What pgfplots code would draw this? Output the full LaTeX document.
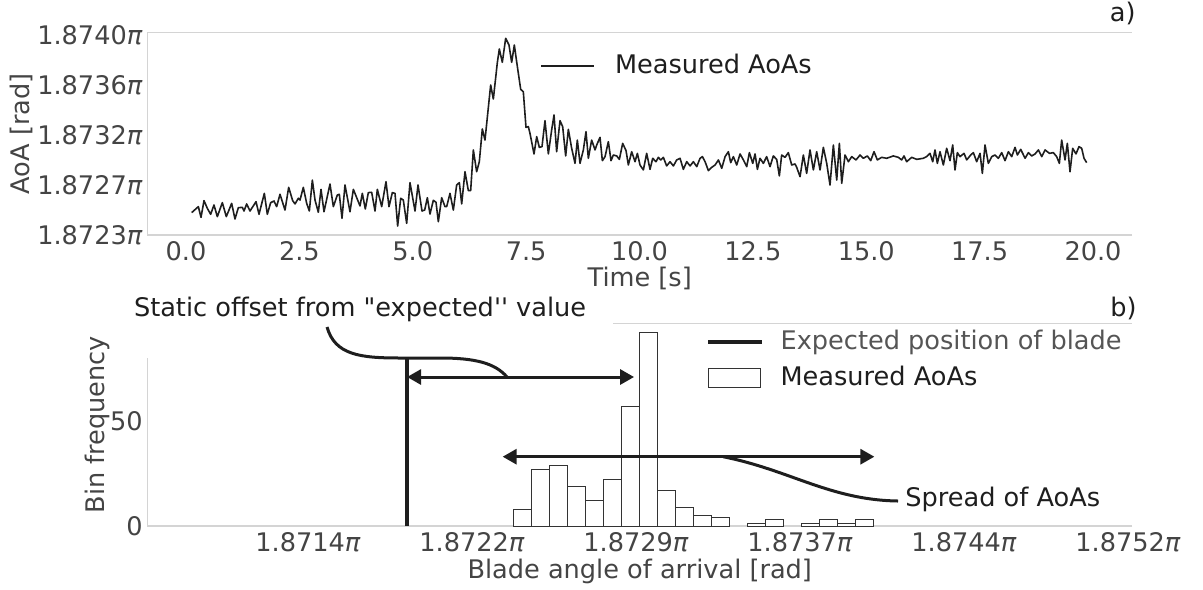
\documentclass[border=0pt]{standalone}
\usepackage{fontspec}
\setmainfont{DejaVu Sans}
\usepackage{pgfplots}
\pgfplotsset{compat=1.18}
\usetikzlibrary{arrows.meta}
\definecolor{spine}{HTML}{D4D4D4}
\definecolor{tickc}{HTML}{444444}
\definecolor{dark}{HTML}{1E1E1E}
\definecolor{legg}{HTML}{555555}
\definecolor{histedge}{HTML}{333333}
\newcommand{\fs}{\fontsize{12.8}{15}\selectfont}
\pgfplotsset{
  common/.style={
    scale only axis, clip=false,
    axis line style={draw=none}, tick style={draw=none}, major tick length=0pt,
    tick label style={font=\fs, text=tickc},
    xticklabel style={inner sep=0pt, anchor=north, yshift=-3pt},
    yticklabel style={inner sep=0pt, anchor=east, xshift=-2.25pt},
  },
  lineleg/.style={legend image code/.code={\draw[##1] (0pt,0pt) -- (26.5pt,0pt);}},
  thickleg/.style={legend image code/.code={\draw[##1] (0pt,0pt) -- (27pt,0pt);}},
  patchleg/.style={legend image code/.code={\draw[draw=histedge, line width=0.5pt, fill=white] (0pt,-4.75pt) rectangle (26pt,4.75pt);}},
}
\begin{document}
\begin{tikzpicture}[x=1pt,y=1pt]
\path[use as bounding box] (0,0) rectangle (601.5,294.5);
% ---------------- top axis ----------------
\begin{axis}[common,
  at={(73.75pt,177pt)}, anchor=south west,
  width=492.25pt, height=101.15pt,
  xmin=-0.849, xmax=20.86, ymin=23, ymax=40.196,
  xtick={0,2.5,5,7.5,10,12.5,15,17.5,20},
  xticklabels={0.0,2.5,5.0,7.5,10.0,12.5,15.0,17.5,20.0},
  ytick={23,27.25,31.5,35.75,40},
  yticklabels={1.8723\textit{π},1.8727\textit{π},1.8732\textit{π},1.8736\textit{π},1.8740\textit{π}},
  xlabel={Time [s]}, ylabel={AoA [rad]},
  every axis x label/.style={at={(axis description cs:0.5,-0.2556)}, anchor=base, font=\fs, text=tickc},
  every axis y label/.style={at={(axis description cs:-0.1285,0.5)}, rotate=90, anchor=center, font=\fs, text=tickc},
  legend style={draw=none, fill=none, at={(0.3987,0.8354)}, anchor=west, inner sep=0pt,
    column sep=10pt, font=\fs, text=dark,
    nodes={inner sep=0pt, text height=0.73em, text depth=0pt}, cells={anchor=west}},
]
\draw[spine, line width=0.6pt] (rel axis cs:1,0) -- (rel axis cs:0,0) -- (rel axis cs:0,1) -- (rel axis cs:1,1);
\addplot[dark, line width=0.8pt, line join=round, lineleg] coordinates {
(0.125,24.90) (0.272,25.41) (0.331,24.50) (0.397,25.92) (0.470,25.27) (0.544,24.76) (0.617,25.55) (0.691,24.56) (0.801,25.75) (0.889,24.56) (1.007,25.69) (1.080,24.36) (1.154,25.32) (1.242,25.35) (1.279,25.04) (1.338,25.64) (1.411,25.04) (1.544,25.83) (1.610,24.76) (1.727,26.54) (1.793,24.76) (1.867,25.75) (1.940,25.89) (1.999,25.41) (2.073,26.46) (2.183,25.12) (2.264,27.05) (2.352,25.92) (2.404,25.64) (2.477,26.12) (2.514,25.97) (2.587,27.05) (2.661,25.69) (2.720,25.04) (2.786,27.67) (2.845,25.97) (2.918,24.93) (2.977,26.88) (3.043,24.98) (3.175,27.33) (3.249,25.41) (3.337,26.40) (3.381,26.46) (3.440,24.42) (3.506,27.25) (3.616,24.98) (3.690,26.88) (3.837,25.47) (3.888,26.54) (3.954,25.21) (4.020,26.60) (4.094,26.63) (4.168,25.04) (4.219,26.88) (4.315,25.41) (4.410,27.53) (4.476,25.41) (4.550,26.60) (4.609,26.54) (4.667,23.76) (4.734,26.12) (4.792,25.97) (4.866,23.99) (4.939,27.45) (5.050,25.04) (5.116,27.25) (5.204,25.04) (5.263,25.12) (5.322,26.17) (5.380,24.78) (5.454,25.95) (5.513,25.78) (5.564,24.13) (5.638,26.17) (5.711,25.41) (5.748,25.41) (5.821,26.54) (5.895,25.12) (5.968,27.25) (6.027,27.45) (6.079,25.64) (6.152,28.38) (6.226,26.77) (6.277,26.77) (6.336,30.23) (6.409,28.38) (6.468,29.23) (6.534,32.01) (6.593,31.07) (6.718,35.75) (6.777,34.56) (6.865,37.65) (6.909,38.81) (6.975,37.68) (7.049,39.72) (7.122,39.15) (7.181,37.68) (7.240,39.15) (7.291,37.73) (7.380,35.38) (7.438,35.18) (7.497,32.15) (7.549,32.21) (7.585,31.64)
(7.674,29.89) (7.733,31.36) (7.791,30.45) (7.850,30.51) (7.916,32.72) (7.990,29.89) (8.063,31.93) (8.115,33.20) (8.173,30.08) (8.247,32.72) (8.306,32.21) (8.372,29.72) (8.431,31.98) (8.504,30.37) (8.578,29.09) (8.629,31.07) (8.688,29.09) (8.762,30.23) (8.820,31.78) (8.872,29.52) (8.945,31.07) (9.019,30.23) (9.056,30.65) (9.129,31.30) (9.181,29.32) (9.240,29.66) (9.313,30.93) (9.372,29.32) (9.423,29.80) (9.497,29.72) (9.556,29.43) (9.629,30.79) (9.703,30.17) (9.754,28.95) (9.828,30.08) (9.901,29.23) (9.953,29.94) (10.011,28.95) (10.085,28.53) (10.158,29.94) (10.232,28.58) (10.291,29.52) (10.364,29.23) (10.416,29.60) (10.467,29.38) (10.526,29.60) (10.599,28.87) (10.673,29.23) (10.747,28.87) (10.820,29.38) (10.894,29.52) (10.967,28.58) (11.041,29.23) (11.115,28.87) (11.188,29.23) (11.262,28.81) (11.335,29.52) (11.387,29.66) (11.446,29.23) (11.519,28.47) (11.593,28.75) (11.666,28.95) (11.740,29.38) (11.813,28.67) (11.887,29.66) (11.960,30.08) (12.011,29.15) (12.070,29.66) (12.144,28.95) (12.217,29.89) (12.291,29.38) (12.364,28.81) (12.423,30.00) (12.497,29.09) (12.548,29.89) (12.600,28.58) (12.657,29.52) (12.731,29.09) (12.804,29.66) (12.878,28.81) (12.951,29.72) (13.025,29.43) (13.084,28.02) (13.135,29.80) (13.209,29.60) (13.282,30.00) (13.356,28.95) (13.429,29.04) (13.466,28.75) (13.540,27.96)
(13.613,29.80) (13.686,28.24) (13.760,30.23) (13.834,28.53) (13.907,30.08) (13.981,28.53) (14.054,30.45) (14.128,29.09) (14.201,27.25) (14.275,30.65) (14.349,27.67) (14.407,30.79) (14.459,27.39) (14.532,29.80) (14.606,29.23) (14.679,29.66) (14.775,29.38) (14.863,29.80) (14.936,29.52) (15.024,29.72) (15.098,29.32) (15.171,30.08) (15.245,29.38) (15.340,29.60) (15.450,29.52) (15.597,29.72) (15.708,29.60) (15.781,29.38) (15.833,29.72) (15.891,29.23) (16.002,29.60) (16.112,29.43) (16.259,29.52) (16.332,29.66) (16.406,29.94) (16.465,29.23) (16.516,30.23) (16.568,29.09) (16.626,30.08) (16.700,28.95) (16.773,30.37) (16.847,29.32) (16.906,30.65) (16.957,28.53) (17.009,30.00) (17.068,29.66) (17.156,29.94) (17.215,29.38) (17.303,29.80) (17.362,30.00) (17.435,29.23) (17.509,29.94) (17.560,28.24) (17.619,30.65) (17.692,29.09) (17.766,29.66) (17.839,29.80) (17.913,29.52) (17.987,30.00) (18.060,29.32) (18.134,30.08) (18.207,29.66) (18.281,30.45) (18.333,29.80) (18.406,30.28) (18.502,29.52) (18.575,30.00) (18.649,29.72) (18.722,29.89) (18.796,30.23) (18.870,29.66) (18.943,30.23) (19.039,29.94) (19.125,30.00) (19.199,29.66) (19.258,29.09) (19.309,31.07) (19.383,29.38) (19.434,30.79) (19.493,28.38) (19.552,30.37) (19.625,29.89) (19.691,30.51) (19.750,30.37) (19.802,29.52) (19.860,29.15)
};
\addlegendentry{Measured AoAs}
\node[anchor=base east, font=\fs, text=dark, inner sep=0pt, xshift=2pt, yshift=5.5pt] at (rel axis cs:1,1) {a)};
\end{axis}
% ---------------- bottom axis ----------------
\begin{axis}[common,
  at={(73.75pt,31.5pt)}, anchor=south west,
  width=492.25pt, height=101.25pt,
  xmin=6.66, xmax=51.68, ymin=0, ymax=96.43,
  xtick={14,21.5,29,36.5,44,51.5},
  xticklabels={1.8714\textit{π},1.8722\textit{π},1.8729\textit{π},1.8737\textit{π},1.8744\textit{π},1.8752\textit{π}},
  ytick={0,50}, yticklabels={0,50},
  xlabel={Blade angle of arrival [rad]}, ylabel={Bin frequency},
  every axis x label/.style={at={(axis description cs:0.5,-0.2568)}, anchor=base, font=\fs, text=tickc},
  every axis y label/.style={at={(axis description cs:-0.0513,0.5)}, rotate=90, anchor=center, font=\fs, text=tickc},
  legend style={draw=none, fill=none, at={(0.5673,0.8124)}, anchor=west, inner sep=0pt,
    column sep=8.3pt, row sep=9.66pt, font=\fs, text=dark,
    nodes={inner sep=0pt, text height=0.73em, text depth=0pt}, cells={anchor=west}},
]
\draw[spine, line width=0.6pt] (rel axis cs:1,0) -- (rel axis cs:0,0) -- (axis cs:6.66,80);
\draw[spine, line width=0.6pt] (axis cs:27.95,96.43) -- (rel axis cs:1,1);
\addplot[dark, line width=1.8pt, thickleg] coordinates {(18.53,0) (18.53,80)};
\addlegendentry{\textcolor{legg}{Expected position of blade}}
\addplot[ybar interval, fill=white, draw=histedge, line width=0.5pt, patchleg] coordinates {
(23.390,8) (24.213,27) (25.036,29) (25.859,19) (26.682,12) (27.505,22) (28.328,57) (29.151,92) (29.974,17) (30.797,9) (31.620,5) (32.443,4) (33.266,0)};
\addlegendentry{Measured AoAs}
\addplot[ybar interval, fill=white, draw=histedge, line width=0.5pt, forget plot] coordinates {
(34.089,1) (34.912,3) (35.735,0)};
\addplot[ybar interval, fill=white, draw=histedge, line width=0.5pt, forget plot] coordinates {
(36.558,1) (37.381,3) (38.204,1) (39.027,3) (39.850,0)};
% annotations
\draw[dark, line width=1.5pt, {Triangle[length=7pt,width=7.5pt]}-{Triangle[length=7pt,width=7.5pt]}] (axis cs:18.53,70.95) -- (axis cs:28.91,70.95);
\draw[dark, line width=1.5pt, {Triangle[length=7pt,width=7.5pt]}-{Triangle[length=7pt,width=7.5pt]}] (axis cs:22.90,33.0) -- (axis cs:39.90,33.0);
\draw[dark, line width=1.5pt] (axis cs:14.87,94.76) .. controls (axis cs:15.23,81.43) and (axis cs:16.38,80) .. (axis cs:18.21,80) -- (axis cs:20.04,80) .. controls (axis cs:21.64,80) and (axis cs:22.55,77.6) .. (axis cs:23.10,70.95);
\draw[dark, line width=1.5pt] (axis cs:32.98,33.0) .. controls (axis cs:36.04,26.67) and (axis cs:37.87,12.38) .. (axis cs:40.98,11.9);
\node[anchor=base, font=\fs, text=dark, inner sep=0pt] at (axis cs:16.38,99.7) {Static offset from \textquotedbl expected\textquotesingle\textquotesingle{} value};
\node[anchor=base west, font=\fs, text=dark, inner sep=0pt] at (axis cs:41.3,9.3) {Spread of AoAs};
\node[anchor=base east, font=\fs, text=dark, inner sep=0pt, xshift=2.5pt, yshift=3.75pt] at (rel axis cs:1,1) {b)};
\end{axis}
\end{tikzpicture}
\end{document}
